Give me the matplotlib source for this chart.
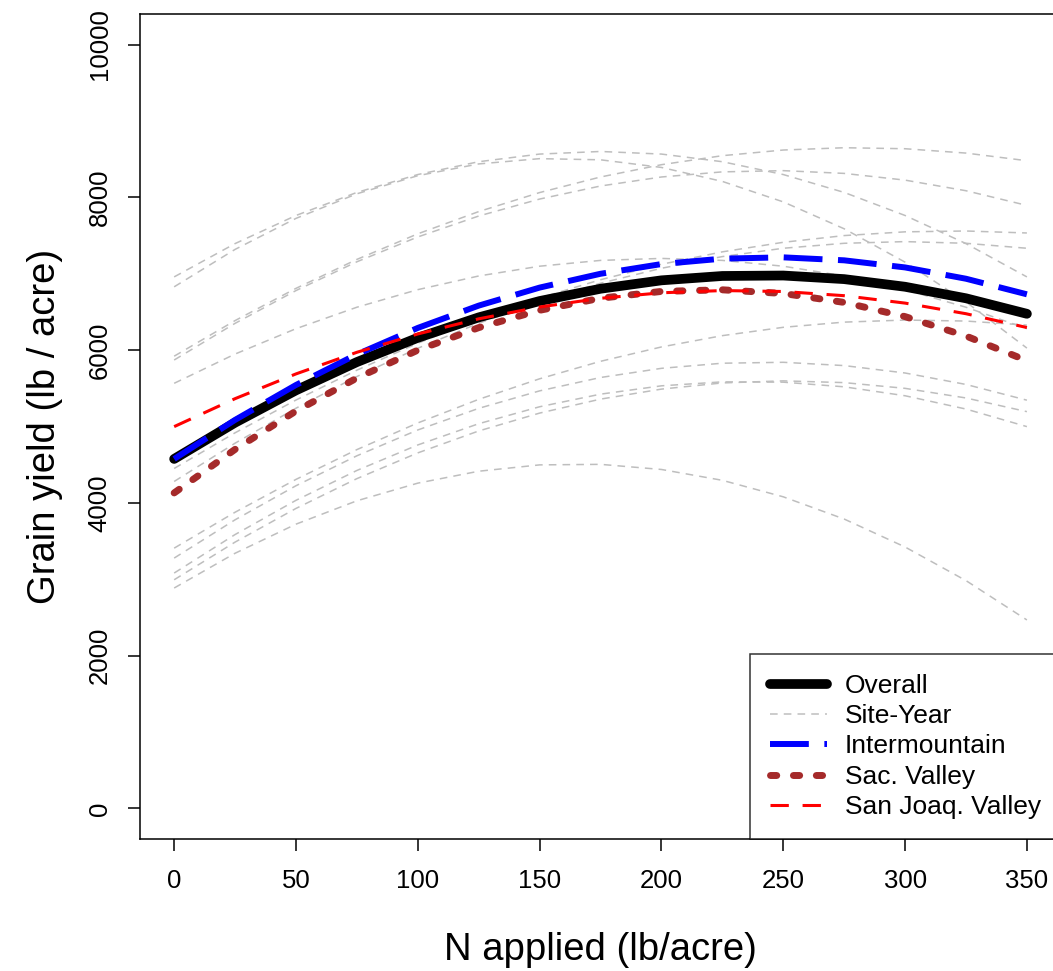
import matplotlib
matplotlib.use("Agg")
import matplotlib.pyplot as plt

plt.rcParams['font.family'] = ['Liberation Sans', 'DejaVu Sans']

n_applied = [0, 25, 50, 75, 100, 125, 150, 175, 200, 225, 250, 275, 300, 325, 350]

# site-year response curves (grain yield, lb/acre)
site_years = [
    [6958, 7394, 7762, 8064, 8298, 8466, 8566, 8600, 8566, 8466, 8298, 8064, 7762, 7394, 6958],
    [6828, 7318, 7724, 8046, 8283, 8437, 8506, 8491, 8391, 8208, 7940, 7588, 7151, 6631, 6026],
    [5920, 6386, 6808, 7187, 7522, 7813, 8062, 8266, 8427, 8545, 8619, 8649, 8636, 8579, 8479],
    [5870, 6350, 6779, 7156, 7481, 7755, 7977, 8148, 8266, 8333, 8349, 8313, 8225, 8086, 7894],
    [5565, 5948, 6280, 6561, 6791, 6970, 7098, 7174, 7200, 7174, 7098, 6970, 6791, 6561, 6280],
    [4450, 4917, 5346, 5737, 6090, 6405, 6682, 6921, 7123, 7286, 7411, 7499, 7548, 7559, 7533],
    [4280, 4781, 5239, 5654, 6024, 6351, 6635, 6875, 7071, 7224, 7333, 7398, 7420, 7398, 7333],
    [2885, 3340, 3721, 4027, 4258, 4414, 4497, 4504, 4437, 4295, 4079, 3788, 3422, 2982, 2467],
    [3407, 3877, 4307, 4697, 5046, 5355, 5624, 5853, 6041, 6189, 6298, 6366, 6393, 6380, 6327],
    [3277, 3778, 4224, 4616, 4954, 5237, 5466, 5641, 5761, 5828, 5840, 5797, 5700, 5550, 5344],
    [3081, 3585, 4033, 4424, 4758, 5036, 5258, 5423, 5532, 5584, 5580, 5519, 5402, 5228, 4998],
    [2993, 3486, 3927, 4317, 4654, 4941, 5175, 5358, 5489, 5570, 5597, 5574, 5499, 5373, 5194],
]

overall = [4575, 5050, 5473, 5843, 6161, 6428, 6642, 6803, 6913, 6970, 6976, 6929, 6829, 6678, 6475]
intermountain = [4575, 5086, 5543, 5944, 6290, 6582, 6818, 6999, 7126, 7197, 7214, 7175, 7082, 6934, 6730]
sac_valley = [4130, 4700, 5202, 5634, 5999, 6294, 6521, 6679, 6768, 6789, 6741, 6624, 6438, 6184, 5861]
san_joaquin = [4998, 5364, 5688, 5971, 6211, 6409, 6564, 6678, 6750, 6779, 6767, 6712, 6615, 6476, 6295]

x_ticks = [0, 50, 100, 150, 200, 250, 300, 350]
y_ticks = [0, 2000, 4000, 6000, 8000, 10000]

fig = plt.figure(figsize=(10.53, 9.71), dpi=100)
# axes box runs past the right edge of the picture, as in the original
ax = fig.add_axes([0.133, 0.136, 0.8746, 0.8496])

for i, sy in enumerate(site_years):
    ax.plot(n_applied, sy, color='#bebebe', lw=1.1, dashes=(5, 4),
            label='Site-Year' if i == 0 else None, zorder=2)

ax.plot(n_applied, overall, color='black', lw=7, solid_capstyle='round',
        label='Overall', zorder=3)
ax.plot(n_applied, intermountain, color='blue', lw=4.3, dashes=(6.5, 2.6),
        label='Intermountain', zorder=4)
ax.plot(n_applied, sac_valley, color='brown', lw=5, dashes=(0.9, 2.4),
        dash_capstyle='round', label='Sac. Valley', zorder=4)
ax.plot(n_applied, san_joaquin, color='red', lw=2.2, dashes=(6, 4.5),
        label='San Joaq. Valley', zorder=4)

ax.set_xlim(-14, 364)
ax.set_ylim(-400, 10400)
ax.set_xticks(x_ticks)
ax.set_yticks(y_ticks)
ax.set_yticklabels([str(v) for v in y_ticks], rotation=90, va='center')
ax.tick_params(labelsize=18.5, length=8.5, width=1.1, pad=12)
ax.tick_params(axis='x', pad=13)
for s in ax.spines.values():
    s.set_linewidth(1.1)

ax.set_xlabel('N applied (lb/acre)', fontsize=27.5, labelpad=28)
ax.set_ylabel('Grain yield (lb / acre)', fontsize=27.5, labelpad=18)

h, l = ax.get_legend_handles_labels()
order = [l.index(k) for k in ['Overall', 'Site-Year', 'Intermountain',
                              'Sac. Valley', 'San Joaq. Valley']]
leg = ax.legend([h[i] for i in order], [l[i] for i in order], loc='lower right',
                fontsize=19, frameon=True, fancybox=False, borderaxespad=0,
                handlelength=2.15, handletextpad=0.7, labelspacing=0.24,
                borderpad=0.75)
leg.get_frame().set_edgecolor('black')
leg.get_frame().set_linewidth(1.1)

fig.savefig('out.png', dpi=100)
